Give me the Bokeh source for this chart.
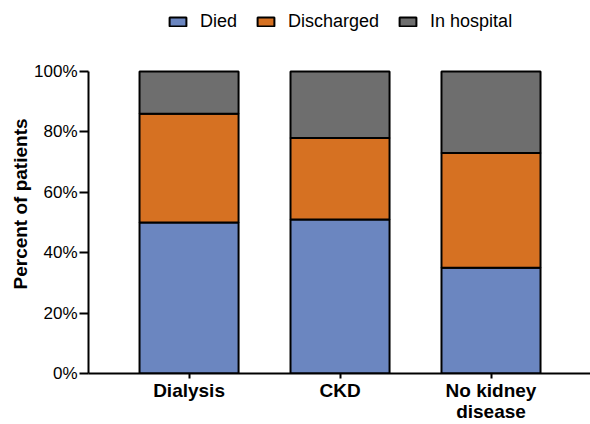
from bokeh.plotting import figure
from bokeh.models import Range1d, FixedTicker, PrintfTickFormatter, ColumnDataSource, Title
from bokeh.embed import file_html
from bokeh.resources import INLINE

categories = ["Dialysis", "CKD", "No kidney\ndisease"]
died = [50, 51, 35]
discharged = [36, 27, 38]
in_hospital = [14, 22, 27]
series = ["Died", "Discharged", "In hospital"]
colors = ["#6b86c0", "#d67122", "#6e6e6e"]
y_ticks = [0, 20, 40, 60, 80, 100]
y_label = "Percent of patients"

xs = list(range(len(categories)))
source = ColumnDataSource(dict(x=xs, Died=died, Discharged=discharged, **{"In hospital": in_hospital}))

FONT = "Liberation Sans"

# frame spans the full top so the legend (above the bars) is not clipped;
# the y axis line itself is bounded to 0..100
p = figure(width=590, height=424, output_backend="svg", toolbar_location=None,
           x_range=Range1d(-0.666, 2.659), y_range=Range1d(0, 123.5),
           min_border_left=88, min_border_right=0, min_border_top=0, min_border_bottom=51)

rs = p.vbar_stack(series, x="x", width=0.656, source=source, color=colors,
                  line_color="black", line_width=2,
                  legend_label=series)

p.outline_line_color = None
p.grid.visible = False

p.xaxis.ticker = FixedTicker(ticks=xs)
p.xaxis.major_label_overrides = {i: c for i, c in enumerate(categories)}
p.xaxis.major_label_text_font = FONT
p.xaxis.major_label_text_font_style = "bold"
p.xaxis.major_label_text_font_size = "19px"
p.xaxis.major_label_text_line_height = 1.0
p.xaxis.major_label_text_color = "black"
p.xaxis.minor_tick_line_color = None
p.xaxis.major_tick_out = 5
p.xaxis.major_label_standoff = 1

p.yaxis.bounds = (0, 100)
p.yaxis.ticker = FixedTicker(ticks=y_ticks)
p.yaxis.formatter = PrintfTickFormatter(format="%d%%")
p.yaxis.major_label_text_font = FONT
p.yaxis.major_label_text_font_size = "17px"
p.yaxis.major_label_text_color = "black"
p.yaxis.minor_tick_line_color = None
p.yaxis.major_tick_out = 9
p.yaxis.major_label_standoff = 2

ylab = Title(text=y_label, align="left", offset=84, standoff=2,
             text_font=FONT, text_font_style="bold", text_font_size="19px",
             text_color="black")
p.add_layout(ylab, "left")

for ax in (p.xaxis, p.yaxis):
    ax.axis_line_width = 2
    ax.axis_line_color = "black"
    ax.major_tick_line_width = 2
    ax.major_tick_line_color = "black"
    ax.major_tick_in = 0

leg = p.legend[0]
leg.orientation = "horizontal"
leg.location = (79, 341)
leg.padding = 0
leg.margin = 0
leg.border_line_color = None
leg.background_fill_alpha = 0
leg.label_text_font = FONT
leg.label_text_font_size = "18px"
leg.label_text_color = "black"
leg.glyph_width = 21
leg.glyph_height = 11
leg.label_standoff = 12
leg.spacing = 18

open("out.html", "w").write(file_html(p, INLINE))
